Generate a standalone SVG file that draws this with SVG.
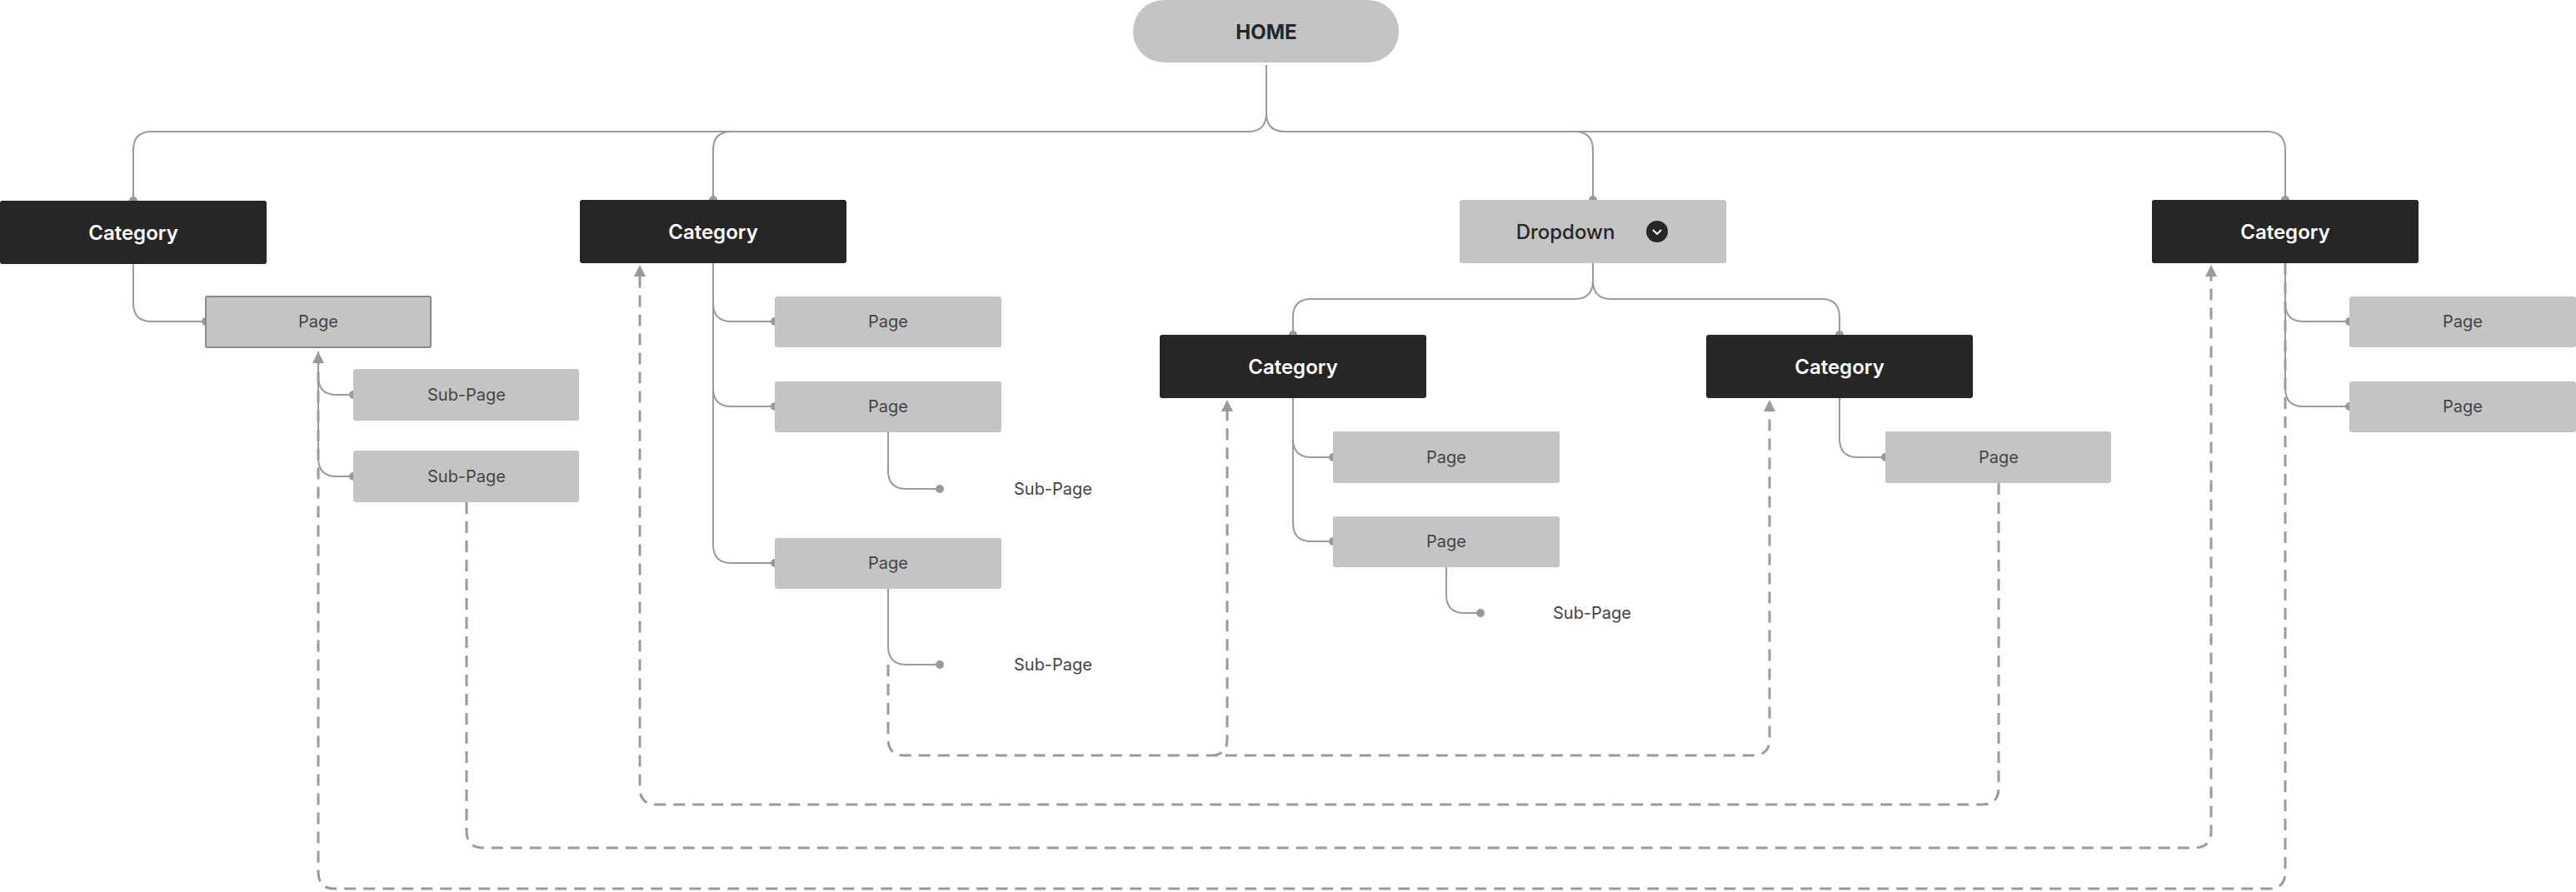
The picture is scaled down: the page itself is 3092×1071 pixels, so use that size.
<svg xmlns="http://www.w3.org/2000/svg" width="3092" height="1071" viewBox="0 0 3092 1071">
<style>
.dark{fill:#262626}
.grey{fill:#c4c4c4}
.ct{font-family:Inter,"Liberation Sans",sans-serif;font-size:24px;font-weight:600;fill:#ffffff;text-anchor:middle;dominant-baseline:central}
.pt{font-family:Inter,"Liberation Sans",sans-serif;font-size:20px;fill:#444444;text-anchor:middle;dominant-baseline:central}
.ht{font-family:Inter,"Liberation Sans",sans-serif;font-size:24px;font-weight:700;fill:#262626;text-anchor:middle;dominant-baseline:central}
.ln{fill:none;stroke:#9a9a9a;stroke-width:2}
.ds{fill:none;stroke:#9a9a9a;stroke-width:3;stroke-dasharray:14 9}
.dot{fill:#9a9a9a}
.ah{fill:#9a9a9a}
</style>
<g id="connectors">
<path class="ln" d="M1520 78 V136 Q1520 158 1498 158 H182 Q160 158 160 180 V241"/>
<path class="ln" d="M1520 136 Q1520 158 1542 158 H2721 Q2743 158 2743 180 V241"/>
<path class="ln" d="M878 158 Q856 158 856 180 V241"/>
<path class="ln" d="M1890 158 Q1912 158 1912 180 V240"/>
<path class="ln" d="M160 317 V364 Q160 386 182 386 H247"/>
<path class="ln" d="M856 316 V654 Q856 676 878 676 H930 M856 364 Q856 386 878 386 H930 M856 466 Q856 488 878 488 H930"/>
<path class="ln" d="M1912 316 V337 Q1912 359 1890 359 H1574 Q1552 359 1552 381 V402 M1912 337 Q1912 359 1934 359 H2186 Q2208 359 2208 381 V402"/>
<path class="ln" d="M1552 478 V628 Q1552 650 1574 650 H1600 M1552 527 Q1552 549 1574 549 H1600"/>
<path class="ln" d="M1736 681 V714 Q1736 736 1758 736 H1777"/>
<path class="ln" d="M2208 478 V527 Q2208 549 2230 549 H2263"/>
<path class="ln" d="M2743 316 V466 Q2743 488 2765 488 H2820 M2743 364 Q2743 386 2765 386 H2820"/>
<path class="ln" d="M382 422 V550 Q382 572 404 572 H424 M382 452 Q382 474 404 474 H424"/>
<path class="ln" d="M1066 519 V565 Q1066 587 1088 587 H1128"/>
<path class="ln" d="M1066 707 V776 Q1066 798 1088 798 H1128"/>
<path class="ds" d="M1066 798 V887 Q1066 907 1086 907 H2104 Q2124 907 2124 887 V492 M1453 907 Q1473 907 1473 887 V492"/>
<path class="ds" d="M2399 580 V946 Q2399 966 2379 966 H788 Q768 966 768 946 V330"/>
<path class="ds" d="M560 603 V998 Q560 1018 580 1018 H2634 Q2654 1018 2654 998 V330"/>
<path class="ds" d="M2743 316 V1047 Q2743 1067 2723 1067 H402 Q382 1067 382 1047 V434"/>
<polygon class="ah" points="1473,480 1466,494 1480,494"/>
<polygon class="ah" points="2124,480 2117,494 2131,494"/>
<polygon class="ah" points="768,318 761,332 775,332"/>
<polygon class="ah" points="2654,318 2647,332 2661,332"/>
<polygon class="ah" points="382,422 375,436 389,436"/>
<circle class="dot" cx="160" cy="241" r="5"/>
<circle class="dot" cx="856" cy="240" r="5"/>
<circle class="dot" cx="1912" cy="240" r="5"/>
<circle class="dot" cx="2743" cy="240" r="5"/>
<circle class="dot" cx="1552" cy="402" r="5"/>
<circle class="dot" cx="2208" cy="402" r="5"/>
<circle class="dot" cx="247" cy="386" r="5"/>
<circle class="dot" cx="424" cy="474" r="5"/>
<circle class="dot" cx="424" cy="572" r="5"/>
<circle class="dot" cx="930" cy="386" r="5"/>
<circle class="dot" cx="930" cy="488" r="5"/>
<circle class="dot" cx="930" cy="676" r="5"/>
<circle class="dot" cx="1128" cy="587" r="5"/>
<circle class="dot" cx="1128" cy="798" r="5"/>
<circle class="dot" cx="1600" cy="549" r="5"/>
<circle class="dot" cx="1600" cy="650" r="5"/>
<circle class="dot" cx="1777" cy="736" r="5"/>
<circle class="dot" cx="2263" cy="549" r="5"/>
<circle class="dot" cx="2820" cy="386" r="5"/>
<circle class="dot" cx="2820" cy="488" r="5"/>
</g>
<g id="home"><rect class="grey" x="1360" y="0" width="319" height="75" rx="37"/><text class="ht" x="1520" y="38">HOME</text></g>
<g id="cat1"><rect class="dark" x="0" y="241" width="320" height="76" rx="3"/><text class="ct" x="160" y="279">Category</text></g>
<g id="cat2"><rect class="dark" x="696" y="240" width="320" height="76" rx="3"/><text class="ct" x="856" y="278">Category</text></g>
<g id="dropdown"><rect class="grey" x="1752" y="240" width="320" height="76" rx="3"/><text class="ht" style="font-weight:500" x="1879" y="278">Dropdown</text><circle class="dark" cx="1989" cy="278" r="13"/><path d="M1984 276 L1989 281 L1994 276" fill="none" stroke="#fff" stroke-width="2"/></g>
<g id="cat3"><rect class="dark" x="1392" y="402" width="320" height="76" rx="3"/><text class="ct" x="1552" y="440">Category</text></g>
<g id="cat4"><rect class="dark" x="2048" y="402" width="320" height="76" rx="3"/><text class="ct" x="2208" y="440">Category</text></g>
<g id="cat5"><rect class="dark" x="2583" y="240" width="320" height="76" rx="3"/><text class="ct" x="2743" y="278">Category</text></g>
<g id="page1"><rect class="grey" x="247" y="356" width="270" height="61" rx="2" stroke="#8a8a8a" stroke-width="2"/><text class="pt" x="382" y="386">Page</text></g>
<g id="sub1"><rect class="grey" x="424" y="443" width="271" height="62" rx="3"/><text class="pt" x="560" y="474">Sub-Page</text></g>
<g id="sub2"><rect class="grey" x="424" y="541" width="271" height="62" rx="3"/><text class="pt" x="560" y="572">Sub-Page</text></g>
<g id="page2a"><rect class="grey" x="930" y="356" width="272" height="61" rx="3"/><text class="pt" x="1066" y="386">Page</text></g>
<g id="page2b"><rect class="grey" x="930" y="458" width="272" height="61" rx="3"/><text class="pt" x="1066" y="488">Page</text></g>
<g id="page2c"><rect class="grey" x="930" y="646" width="272" height="61" rx="3"/><text class="pt" x="1066" y="676">Page</text></g>
<g id="sub2b"><text class="pt" x="1264" y="587">Sub-Page</text></g>
<g id="sub2c"><text class="pt" x="1264" y="798">Sub-Page</text></g>
<g id="page3a"><rect class="grey" x="1600" y="518" width="272" height="62" rx="3"/><text class="pt" x="1736" y="549">Page</text></g>
<g id="page3b"><rect class="grey" x="1600" y="620" width="272" height="61" rx="3"/><text class="pt" x="1736" y="650">Page</text></g>
<g id="sub3b"><text class="pt" x="1911" y="736">Sub-Page</text></g>
<g id="page4"><rect class="grey" x="2263" y="518" width="271" height="62" rx="3"/><text class="pt" x="2399" y="549">Page</text></g>
<g id="page5a"><rect class="grey" x="2820" y="356" width="272" height="61" rx="3"/><text class="pt" x="2956" y="386">Page</text></g>
<g id="page5b"><rect class="grey" x="2820" y="458" width="272" height="61" rx="3"/><text class="pt" x="2956" y="488">Page</text></g>
</svg>
